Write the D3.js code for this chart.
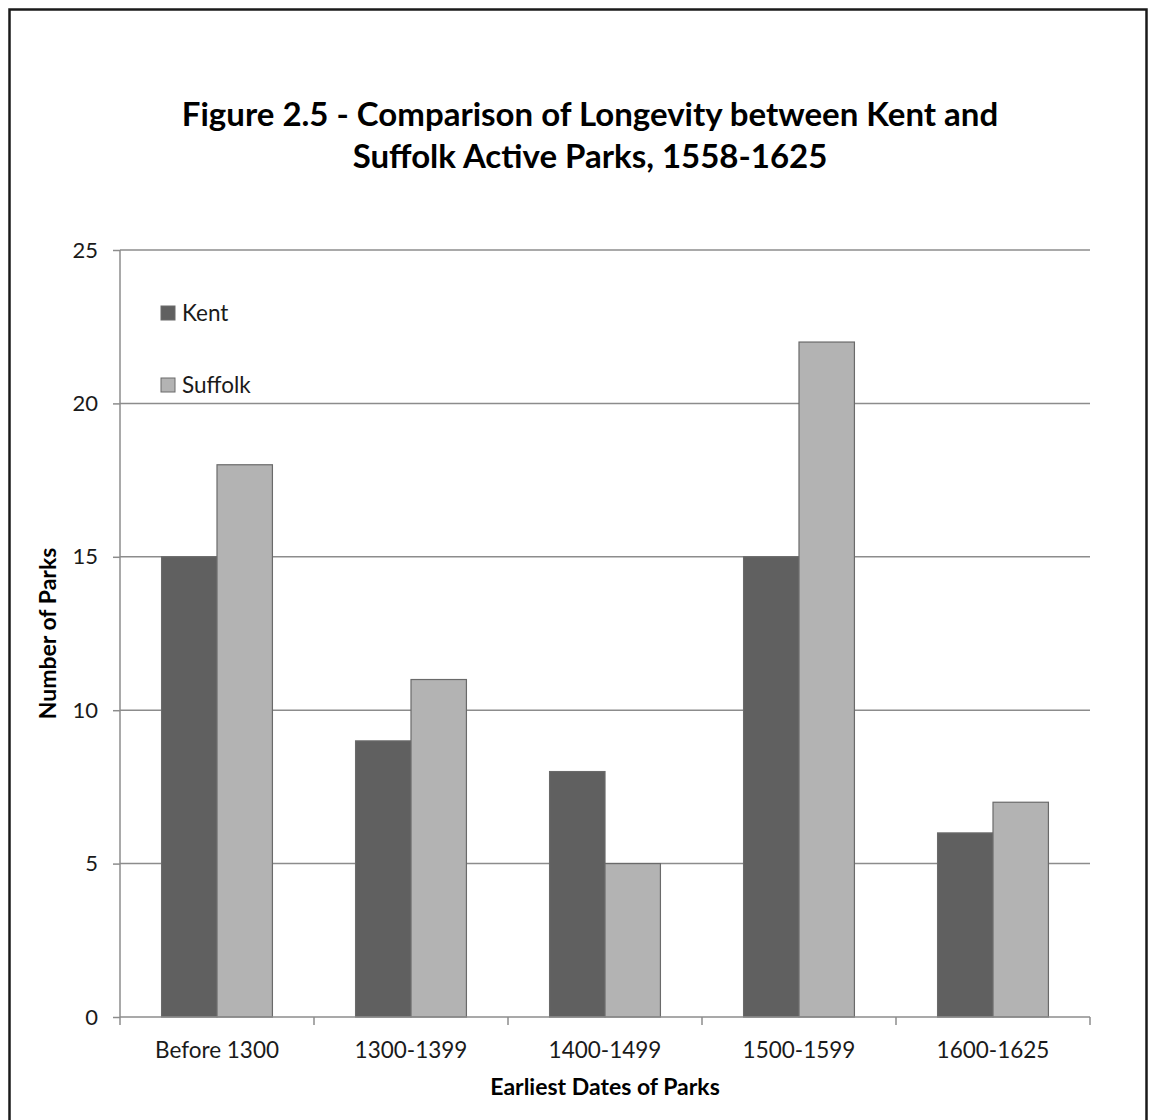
<!DOCTYPE html>
<html>
<head>
<meta charset="utf-8">
<script src="https://cdn.jsdelivr.net/npm/d3@7"></script>
<style>
  html, body { margin: 0; padding: 0; background: #fff; }
  svg { display: block; font-family: Lato, "Open Sans", sans-serif; }
</style>
</head>
<body>
<svg id="chart" width="1154" height="1120"></svg>
<script>
// Earliest-date groups of parks and counts for each county
const categories = ["Before 1300", "1300-1399", "1400-1499", "1500-1599", "1600-1625"];
const seriesNames = ["Kent", "Suffolk"];
const kentValues = [15, 9, 8, 15, 6];
const suffolkValues = [18, 11, 5, 22, 7];
const yTicks = [0, 5, 10, 15, 20, 25];
const titleLines = ["Figure 2.5 - Comparison of Longevity between Kent and", "Suffolk Active Parks, 1558-1625"];

const colors = { Kent: "#606060", Suffolk: "#b3b3b3" };

const svg = d3.select("#chart");
const margin = { left: 120, right: 1090, top: 250, bottom: 1017 };

// outer frame (runs off the bottom edge)
svg.append("rect")
  .attr("x", 9.5).attr("y", 9.5)
  .attr("width", 1137).attr("height", 1130)
  .attr("fill", "none").attr("stroke", "#1a1a1a").attr("stroke-width", 2.5);

// title
svg.append("text")
  .attr("text-anchor", "middle")
  .attr("font-weight", "bold").attr("font-size", 33).attr("fill", "#000")
  .selectAll("tspan").data(titleLines).join("tspan")
  .attr("x", 590).attr("y", (d, i) => 126 + i * 42)
  .text(d => d);

const x0 = d3.scaleBand().domain(categories).range([margin.left, margin.right]).paddingInner(0).paddingOuter(0);
const x1 = d3.scaleBand().domain(seriesNames).range([0, x0.bandwidth()]).paddingInner(0).paddingOuter(0.75);
const y = d3.scaleLinear().domain([0, 25]).range([margin.bottom, margin.top]);

// horizontal gridlines
svg.append("g").selectAll("line").data(yTicks.filter(t => t > 0)).join("line")
  .attr("x1", margin.left).attr("x2", margin.right)
  .attr("y1", d => y(d)).attr("y2", d => y(d))
  .attr("stroke", "#8c8c8c").attr("stroke-width", 1.5);

// bars
const rows = categories.map((c, i) => ({ cat: c, values: [
  { name: "Kent", v: kentValues[i] },
  { name: "Suffolk", v: suffolkValues[i] }
]}));

svg.append("g").selectAll("g").data(rows).join("g")
  .attr("transform", d => `translate(${x0(d.cat)},0)`)
  .selectAll("rect").data(d => d.values).join("rect")
  .attr("x", d => x1(d.name))
  .attr("width", x1.bandwidth())
  .attr("y", d => y(d.v))
  .attr("height", d => y(0) - y(d.v))
  .attr("fill", d => colors[d.name])
  .attr("stroke", "#6a6a6a").attr("stroke-width", 1.2);

// y axis
const yAxis = svg.append("g")
  .attr("transform", `translate(${margin.left},0)`)
  .call(d3.axisLeft(y).tickValues(yTicks).tickSize(7).tickPadding(15));
yAxis.select(".domain").attr("stroke", "#8c8c8c").attr("stroke-width", 1.5).attr("d", `M0,${margin.top}V${margin.bottom}`);
yAxis.selectAll(".tick line").attr("stroke", "#8c8c8c").attr("stroke-width", 1.5);
yAxis.selectAll(".tick text").attr("font-size", 22).attr("fill", "#1a1a1a").attr("font-family", "Lato, sans-serif");

// x axis with ticks at group boundaries
svg.append("line")
  .attr("x1", margin.left).attr("x2", margin.right)
  .attr("y1", y(0)).attr("y2", y(0))
  .attr("stroke", "#8c8c8c").attr("stroke-width", 1.5);
const boundaries = categories.map(c => x0(c)).concat([margin.right]);
svg.append("g").selectAll("line").data(boundaries).join("line")
  .attr("x1", d => d).attr("x2", d => d)
  .attr("y1", y(0)).attr("y2", y(0) + 8)
  .attr("stroke", "#8c8c8c").attr("stroke-width", 1.5);
svg.append("g").selectAll("text").data(categories).join("text")
  .attr("x", d => x0(d) + x0.bandwidth() / 2)
  .attr("y", 1058)
  .attr("text-anchor", "middle")
  .attr("font-size", 22.5).attr("fill", "#1a1a1a")
  .text(d => d);

// axis titles
svg.append("text")
  .attr("x", 605).attr("y", 1095)
  .attr("text-anchor", "middle")
  .attr("font-weight", "bold").attr("font-size", 23).attr("fill", "#000")
  .text("Earliest Dates of Parks");
svg.append("text")
  .attr("transform", `translate(56,${(margin.top + margin.bottom) / 2}) rotate(-90)`)
  .attr("text-anchor", "middle")
  .attr("font-weight", "bold").attr("font-size", 23).attr("fill", "#000")
  .text("Number of Parks");

// legend
const legend = svg.append("g").selectAll("g").data(seriesNames).join("g")
  .attr("transform", (d, i) => `translate(161,${306 + i * 72})`);
legend.append("rect")
  .attr("width", 14).attr("height", 14)
  .attr("fill", d => colors[d])
  .attr("stroke", "#6a6a6a").attr("stroke-width", 1);
legend.append("text")
  .attr("x", 21).attr("y", 15)
  .attr("font-size", 22.5).attr("fill", "#1a1a1a")
  .text(d => d);
</script>
</body>
</html>
